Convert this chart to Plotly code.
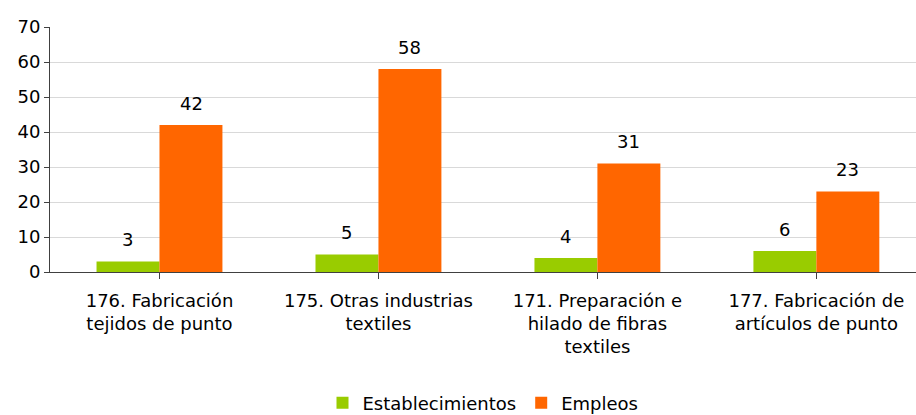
import plotly.graph_objects as go

categories = [
    "176. Fabricación<br>tejidos de punto",
    "175. Otras industrias<br>textiles",
    "171. Preparación e<br>hilado de fibras<br>textiles",
    "177. Fabricación de<br>artículos de punto",
]
establecimientos = [3, 5, 4, 6]
empleos = [42, 58, 31, 23]
series_names = ["Establecimientos", "Empleos"]
colors = ["#99CC00", "#FF6600"]

FONT = "DejaVu Sans, Verdana, sans-serif"
FS = 18
xpos = list(range(len(categories)))

fig = go.Figure()
for name, vals, col in zip(series_names, [establecimientos, empleos], colors):
    fig.add_trace(go.Bar(
        x=xpos, y=vals, name=name, marker=dict(color=col, line=dict(width=0)),
    ))

# value labels above each bar
bar_w = 0.288
for offset, vals in zip([-bar_w / 2, bar_w / 2], [establecimientos, empleos]):
    for i, v in enumerate(vals):
        fig.add_annotation(
            x=i + offset, y=v, text=str(v), showarrow=False,
            yshift=22, yanchor="middle", xanchor="center",
            font=dict(family=FONT, size=FS, color="#000000"),
        )

fig.update_layout(
    width=916, height=415,
    margin=dict(l=50, r=0, t=27, b=143, autoexpand=False),
    paper_bgcolor="white", plot_bgcolor="white",
    barmode="group", bargap=0.425, bargroupgap=0,
    font=dict(family=FONT, size=FS, color="#000000"),
    showlegend=True,
    legend=dict(
        orientation="h", x=0.5, xref="paper", xanchor="center",
        y=-0.535, yanchor="middle", font=dict(family=FONT, size=FS),
        itemwidth=30, tracegroupgap=0,
    ),
)
fig.update_xaxes(
    tickmode="array", tickvals=xpos, ticktext=categories,
    range=[-0.5, 3.455], showline=True, linecolor="#404040", linewidth=1,
    ticks="outside", tickson="boundaries", ticklen=6, tickcolor="#404040",
    showgrid=False, tickfont=dict(family=FONT, size=FS), automargin=False,
    ticklabelstandoff=6,
)
fig.update_yaxes(
    range=[0, 70], dtick=10, showline=True, linecolor="#404040", linewidth=1,
    ticks="outside", ticklen=5, tickcolor="#404040",
    showgrid=True, gridcolor="#D9D9D9", gridwidth=1, zeroline=False,
    tickfont=dict(family=FONT, size=FS), automargin=False,
)

fig.write_html("out.html")
